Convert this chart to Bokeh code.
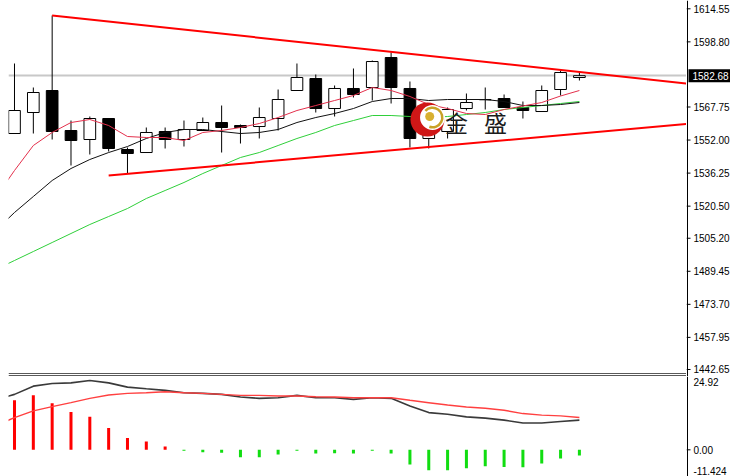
from bokeh.plotting import figure
from bokeh.models import Range1d, ColumnDataSource
from bokeh.layouts import row, column
from bokeh.embed import file_html
from bokeh.resources import INLINE
from bokeh.core.properties import value

# ---------------- data ----------------
candle_idx = list(range(31))
opens = [1555.12, 1565.13, 1575.61, 1556.55, 1552.26, 1562.27, 1547.49, 1546.06, 1556.07, 1552.26,
         1556.55, 1560.36, 1558.93, 1558.45, 1562.27, 1575.61, 1581.33, 1567.03, 1576.57, 1577.04,
         1591.34, 1576.57, 1552.74, 1556.07, 1567.03, 1571.32, 1571.80, 1567.51, 1565.60, 1576.09,
         1581.81]
highs = [1588.48, 1577.04, 1611.36, 1561.31, 1563.22, 1562.50, 1548.45, 1557.98, 1557.98, 1561.31,
         1562.74, 1568.46, 1559.41, 1567.51, 1576.09, 1588.48, 1583.24, 1578.00, 1586.10, 1589.91,
         1593.72, 1579.90, 1561.31, 1567.51, 1574.18, 1577.04, 1573.71, 1570.37, 1578.00, 1585.14,
         1584.19]
lows = [1554.90, 1555.12, 1552.26, 1539.87, 1545.11, 1546.54, 1536.05, 1546.06, 1547.97, 1548.92,
        1556.55, 1546.06, 1550.35, 1552.74, 1556.55, 1575.61, 1565.13, 1563.22, 1572.28, 1570.85,
        1569.42, 1548.45, 1547.97, 1552.74, 1566.08, 1566.56, 1567.51, 1562.27, 1565.60, 1573.23,
        1580.38]
closes = [1566.08, 1574.66, 1556.07, 1551.78, 1562.27, 1547.97, 1545.59, 1555.60, 1552.26, 1557.03,
          1560.36, 1557.98, 1557.98, 1562.74, 1571.32, 1581.81, 1567.03, 1576.57, 1573.71, 1589.43,
          1577.04, 1552.74, 1557.50, 1566.56, 1569.89, 1571.20, 1567.51, 1566.08, 1575.61, 1584.19,
          1582.68]

ma_idx = list(range(-1, 31))
ma_red = [1524.62, 1537.48, 1549.40, 1555.60, 1560.36, 1561.79, 1558.93, 1553.69, 1553.21, 1553.21,
          1551.78, 1555.60, 1556.55, 1557.98, 1559.88, 1562.74, 1566.08, 1568.46, 1570.85, 1573.23,
          1577.04, 1575.61, 1572.75, 1568.94, 1567.03, 1564.65, 1564.17, 1566.56, 1568.23, 1569.89,
          1572.99, 1575.61]
ma_black = [1508.89, 1517.47, 1525.09, 1532.72, 1538.44, 1542.73, 1546.06, 1548.92, 1552.74, 1555.60,
            1557.03, 1557.03, 1556.07, 1555.12, 1555.60, 1557.03, 1560.36, 1562.74, 1564.65, 1567.03,
            1570.37, 1571.80, 1571.80, 1570.85, 1571.32, 1571.32, 1571.32, 1570.37, 1568.46, 1568.46,
            1568.94, 1569.89]
ma_green = [1490.30, 1494.59, 1498.88, 1503.17, 1507.46, 1511.75, 1515.56, 1519.37, 1524.14, 1527.95,
            1531.77, 1536.05, 1539.87, 1543.68, 1546.06, 1549.40, 1552.74, 1555.60, 1558.93, 1561.31,
            1563.70, 1563.70, 1563.22, 1562.74, 1563.22, 1564.17, 1565.13, 1566.56, 1567.51, 1568.46,
            1569.42, 1570.37]

trend_upper_idx = [2, 36]
trend_upper_price = [1611.36, 1578.65]
trend_lower_idx = [5, 36]
trend_lower_price = [1535.10, 1559.89]

current_price = 1582.68
price_ticks = [1614.55, 1598.80, 1567.75, 1552.00, 1536.25, 1520.50, 1505.20,
               1489.45, 1473.70, 1457.95, 1442.65]

macd_idx = list(range(-1, 31))
macd_dif = [17.03, 18.84, 21.64, 22.55, 22.75, 23.56, 22.75, 21.30, 20.73, 20.19, 19.38, 19.18,
            18.84, 17.94, 17.50, 17.70, 18.51, 17.70, 17.70, 17.16, 17.70, 17.50, 14.91, 12.65,
            12.11, 11.21, 10.77, 10.10, 9.09, 9.09, 9.62, 10.10]
macd_dea = [8.18, 10.97, 13.22, 14.67, 16.02, 17.50, 18.61, 19.18, 19.38, 19.72, 19.38, 19.18,
            18.84, 18.51, 18.51, 18.27, 18.27, 18.04, 17.94, 17.70, 17.70, 17.70, 16.83, 16.02,
            15.24, 14.57, 14.13, 13.46, 12.32, 11.78, 11.54, 10.97]
macd_hist = [16.83, 18.51, 15.82, 12.89, 11.21, 7.40, 4.04, 2.79, 1.11, -0.30,
             -0.81, -1.01, -2.49, -2.49, -1.58, -0.30, -1.25, -1.14, -1.25, -0.30,
             -1.25, -4.95, -6.97, -6.97, -6.29, -5.62, -5.86, -5.96, -4.61, -2.93, -1.92]
macd_max_label = 24.92
macd_zero_label = 0.0
macd_min_label = -11.424

# ---------------- layout constants ----------------
PX_PER_BAR = 18.83
FRAME_W = 678
LEFT_PAD = 8
SIDE_W = 44
MAIN_H = 376
MACD_H = 100
X0 = -0.3186
X1 = X0 + FRAME_W / PX_PER_BAR
PRICE_TOP = 1618.51
PRICE_BOTTOM = 1439.31
MACD_BOTTOM = -9.07
AXIS_FONT = "Liberation Sans"
AXIS_SIZE = "10px"

x_range = Range1d(X0, X1)
price_range = Range1d(PRICE_BOTTOM, PRICE_TOP)
macd_range = Range1d(MACD_BOTTOM, macd_max_label)


def make_fig(w, h, xr, yr, left=0):
    f = figure(frame_width=w, frame_height=h, x_range=xr, y_range=yr,
               output_backend="svg", toolbar_location=None,
               x_axis_location=None, y_axis_location=None,
               min_border_left=left, min_border_right=0, min_border_top=0, min_border_bottom=0,
               background_fill_color="white", border_fill_color="white", outline_line_color=None)
    f.grid.visible = False
    return f


# ---------------- main price panel ----------------
p = make_fig(FRAME_W, MAIN_H, x_range, price_range, LEFT_PAD)

p.hspan(y=[current_price], line_color="#c8c8c8", line_width=2, level="underlay")

body_top = [max(o, c) for o, c in zip(opens, closes)]
body_bot = [min(o, c) for o, c in zip(opens, closes)]
fills = ["white" if c >= o else "black" for o, c in zip(opens, closes)]
src = ColumnDataSource(dict(x=candle_idx, h=highs, l=lows, t=body_top, b=body_bot, f=fills))
p.segment(x0="x", y0="l", x1="x", y1="h", source=src, line_color="black", line_width=1)
p.vbar(x="x", width=0.62, top="t", bottom="b", fill_color="f", line_color="black",
       line_width=1, source=src)

p.line(ma_idx, ma_green, line_color="#2fcf3a", line_width=1)
p.line(ma_idx, ma_black, line_color="#111111", line_width=1)
p.line(ma_idx, ma_red, line_color="#e3304c", line_width=1)

p.line(trend_upper_idx, trend_upper_price, line_color="#ff0000", line_width=2)
p.line(trend_lower_idx, trend_lower_price, line_color="#ff0000", line_width=2)

# watermark logo
p.circle(x=[21.93], y=[1561.79], radius=17, radius_units="screen",
         fill_color="#cf1717", line_color=None)
p.circle(x=[22.20], y=[1562.74], radius=12.5, radius_units="screen",
         fill_color="white", line_color=None)
p.annular_wedge(x=[22.20], y=[1562.74], inner_radius=8.5, outer_radius=11,
                inner_radius_units="screen", outer_radius_units="screen",
                start_angle=-1.9, end_angle=2.4, fill_color="#c9a227", line_color=None)
p.circle(x=[22.05], y=[1563.22], radius=4.5, radius_units="screen",
         fill_color="#d8b030", line_color=None)
p.text(x=[23.47, 25.54], y=[1560.84, 1560.84], text=["金", "盛"],
       text_font=value("Noto Sans CJK SC"), text_font_size="23px",
       text_align="center", text_baseline="middle", text_color="#1c1c1c")

# panel separator (double line)
p.hspan(y=[1440.97, 1440.02], line_color="#5a5a5a", line_width=1)

# ---------------- MACD panel ----------------
q = make_fig(FRAME_W, MACD_H, x_range, macd_range, LEFT_PAD)
hist_colors = ["#ff0000" if v > 0 else "#11dd11" for v in macd_hist]
q.vbar(x=candle_idx, width=0.16, top=macd_hist, bottom=0, fill_color=hist_colors,
       line_color=None)
q.line(macd_idx, macd_dif, line_color="#3a3a3a", line_width=1.6)
q.line(macd_idx, macd_dea, line_color="#ff4040", line_width=1.4)

# ---------------- right-hand price scale ----------------
side_x = Range1d(0, SIDE_W)
sp = make_fig(SIDE_W, MAIN_H, side_x, price_range)
sp.vspan(x=[0.5], line_color="black", line_width=1)
n = len(price_ticks)
sp.segment(x0=[0] * n, y0=price_ticks, x1=[4] * n, y1=price_ticks, line_color="black", line_width=1)
sp.text(x=[7] * n, y=price_ticks, text=[f"{t:.2f}" for t in price_ticks],
        text_font=value(AXIS_FONT), text_font_size=AXIS_SIZE, text_color="black",
        text_baseline="middle", text_align="left")
sp.rect(x=[23], y=[current_price], width=42, height=13, height_units="screen",
        fill_color="black", line_color=None)
sp.text(x=[6], y=[current_price], text=[f"{current_price:.2f}"],
        text_font=value(AXIS_FONT), text_font_size=AXIS_SIZE, text_color="white",
        text_baseline="middle", text_align="left")

sq = make_fig(SIDE_W, MACD_H, side_x, macd_range)
sq.vspan(x=[0.5], line_color="black", line_width=1)
sq.segment(x0=[0], y0=[macd_zero_label], x1=[4], y1=[macd_zero_label], line_color="black")
sq.text(x=[7], y=[macd_max_label], y_offset=1, text=[f"{macd_max_label:.2f}"],
        text_font=value(AXIS_FONT), text_font_size=AXIS_SIZE, text_color="black",
        text_baseline="top", text_align="left")
sq.text(x=[7], y=[macd_zero_label], text=[f"{macd_zero_label:.2f}"],
        text_font=value(AXIS_FONT), text_font_size=AXIS_SIZE, text_color="black",
        text_baseline="middle", text_align="left")
sq.text(x=[7], y=[MACD_BOTTOM], y_offset=-2, text=[f"{macd_min_label:.3f}"],
        text_font=value(AXIS_FONT), text_font_size=AXIS_SIZE, text_color="black",
        text_baseline="bottom", text_align="left")

layout = row(column(p, q), column(sp, sq))
open("out.html", "w").write(file_html(layout, INLINE))
